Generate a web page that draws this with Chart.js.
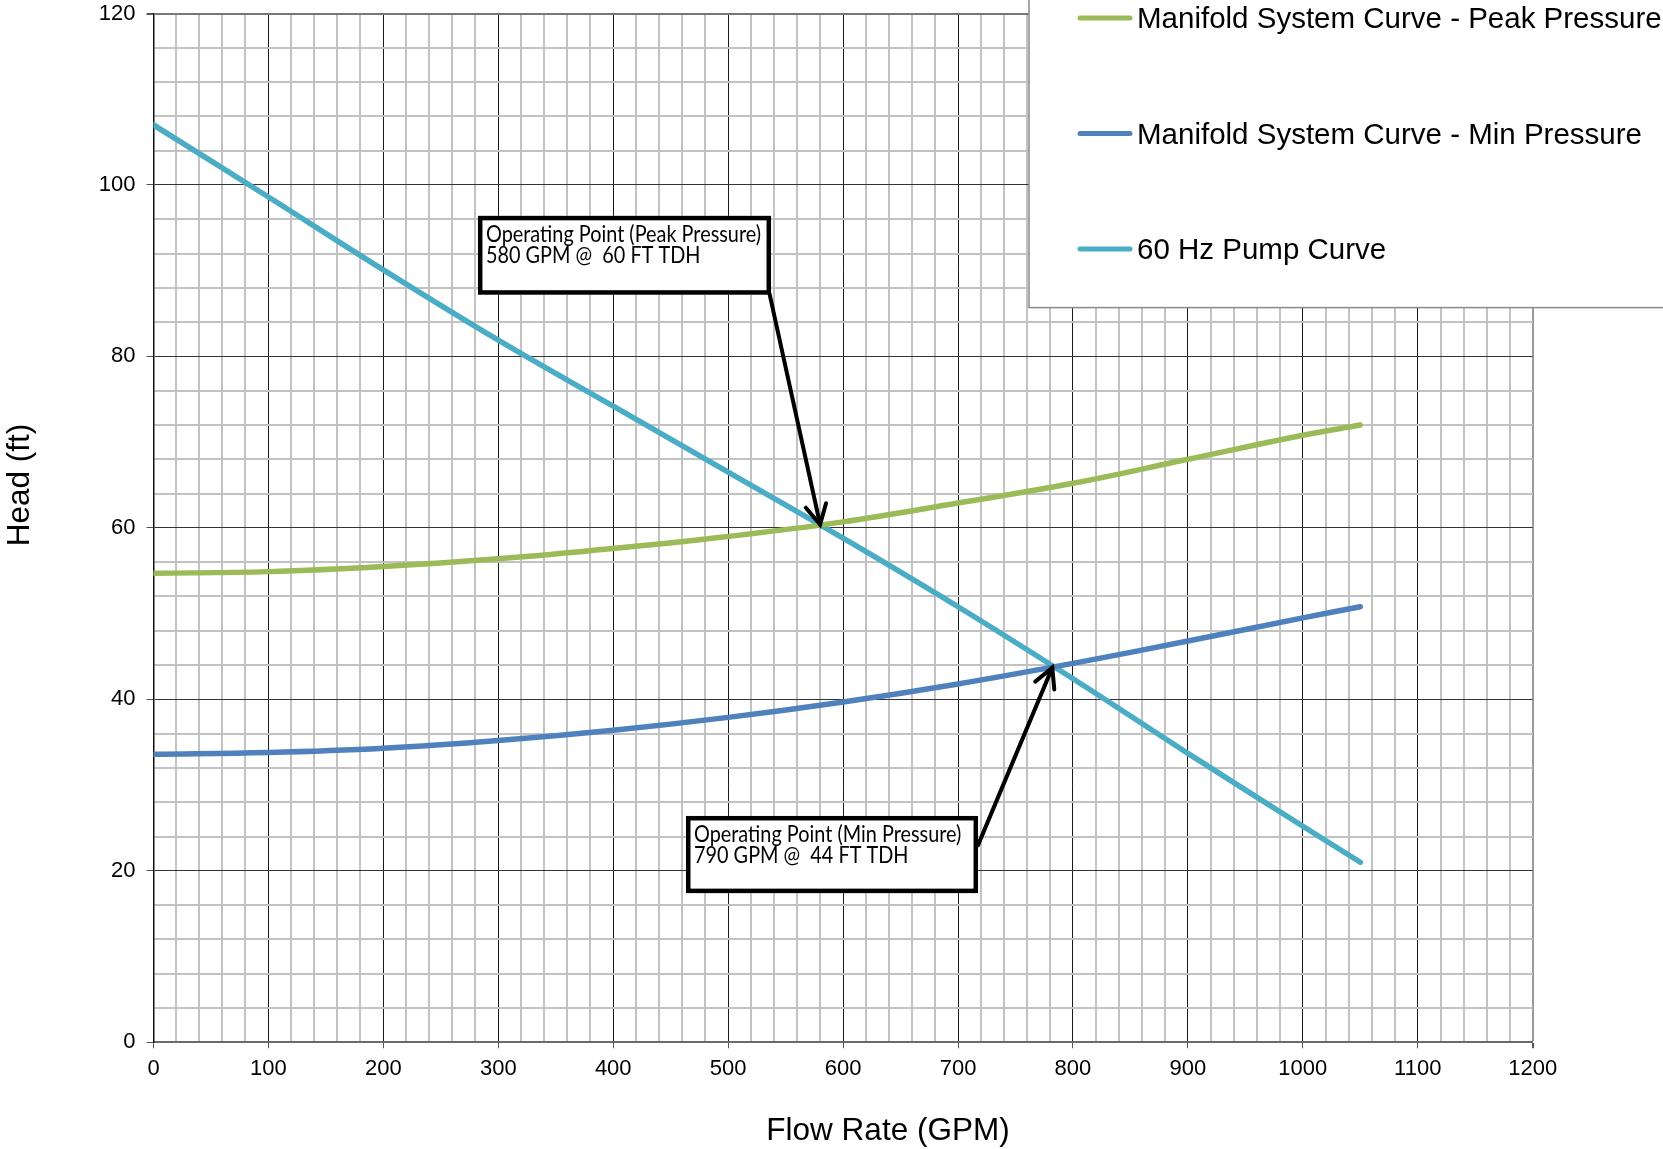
<!DOCTYPE html>
<html><head><meta charset="utf-8">
<script src="https://cdn.jsdelivr.net/npm/chart.js@4/dist/chart.umd.min.js"></script>
<style>html,body{margin:0;padding:0;background:#fff;overflow:hidden}#wrap{width:1663px;height:1149px;position:relative}</style>
</head><body><div id="wrap"><canvas id="c" width="1663" height="1149"></canvas></div>
<script>
// ---- data ----
const flowGPM        = [0, 100, 200, 300, 400, 500, 600, 700, 800, 900, 1000, 1050];
const pumpHead60Hz   = [107.0, 98.6, 90.1, 81.9, 74.2, 66.5, 58.8, 50.8, 42.4, 33.7, 25.2, 21.0];
const peakSystemHead = [54.7, 54.9, 55.5, 56.4, 57.6, 59.0, 60.7, 62.9, 65.2, 68.0, 70.8, 72.0];
const minSystemHead  = [33.6, 33.8, 34.3, 35.2, 36.4, 37.9, 39.7, 41.8, 44.2, 46.8, 49.5, 50.8];
const seriesLabels   = ['Manifold System Curve - Peak Pressure', 'Manifold System Curve - Min Pressure', '60 Hz Pump Curve'];
const xAxisTitle     = 'Flow Rate (GPM)';
const yAxisTitle     = 'Head (ft)';
const xTickLabels    = [0, 100, 200, 300, 400, 500, 600, 700, 800, 900, 1000, 1100, 1200];
const yTickLabels    = [0, 20, 40, 60, 80, 100, 120];
const annotationText = [
  ['Operating Point (Peak Pressure)', '580 GPM @  60 FT TDH'],
  ['Operating Point (Min Pressure)', '790 GPM @  44 FT TDH']
];
const operatingPointGPM  = [580, 782];
const operatingPointHead = [60.4, 43.7];

// ---- styling / layout ----
const COLORS = ['#9BBB59', '#4F81BD', '#4BACC6'];
const FONT = '"Liberation Sans", Arial, sans-serif';
const isMajor = (v, step) => Math.abs(v / step - Math.round(v / step)) < 1e-6;
const pts = arr => flowGPM.map((x, i) => ({x, y: arr[i]}));

// annotation boxes in data units (GPM, ft)
const boxes = [
  {x0: 282.3, y0: 96.4, x1: 537.3, y1: 87.2, fromX: 536.0, fromY: 87.3},
  {x0: 463.3, y0: 26.4, x1: 717.4, y1: 17.4, fromX: 717.4, fromY: 23.0}
];

function drawArrow(ctx, x0, y0, x1, y1) {
  ctx.save();
  ctx.strokeStyle = '#000'; ctx.lineWidth = 4; ctx.lineCap = 'round'; ctx.lineJoin = 'miter';
  ctx.beginPath(); ctx.moveTo(x0, y0); ctx.lineTo(x1, y1); ctx.stroke();
  const a = Math.atan2(y0 - y1, x0 - x1);
  const L = 22, sp = 28 * Math.PI / 180;
  ctx.beginPath();
  ctx.moveTo(x1 + L * Math.cos(a - sp), y1 + L * Math.sin(a - sp));
  ctx.lineTo(x1, y1);
  ctx.lineTo(x1 + L * Math.cos(a + sp), y1 + L * Math.sin(a + sp));
  ctx.stroke();
  ctx.restore();
}

const extras = {
  id: 'extras',
  afterDraw(chart) {
    const ctx = chart.ctx, xs = chart.scales.x, ys = chart.scales.y;
    // annotation boxes + arrows
    boxes.forEach((b, i) => {
      const l = xs.getPixelForValue(b.x0), t = ys.getPixelForValue(b.y0);
      const r = xs.getPixelForValue(b.x1), btm = ys.getPixelForValue(b.y1);
      ctx.save();
      ctx.fillStyle = '#fff';
      ctx.fillRect(l, t, r - l, btm - t);
      ctx.strokeStyle = '#000'; ctx.lineWidth = 4.5;
      ctx.strokeRect(l + 2.25, t + 2.25, r - l - 4.5, btm - t - 4.5);
      ctx.fillStyle = '#000';
      ctx.font = '23.5px Lato, "Open Sans", sans-serif';
      ctx.textBaseline = 'alphabetic'; ctx.textAlign = 'left';
      ctx.translate(l + 8, t);
      ctx.scale(0.845, 1);
      ctx.fillText(annotationText[i][0], 0, 26);
      ctx.fillText(annotationText[i][1], 0, 47);
      ctx.restore();
      drawArrow(ctx, xs.getPixelForValue(b.fromX), ys.getPixelForValue(b.fromY),
                xs.getPixelForValue(operatingPointGPM[i]), ys.getPixelForValue(operatingPointHead[i]));
    });
    // legend (box runs off the top/right of the canvas)
    ctx.save();
    ctx.fillStyle = '#fff';
    ctx.fillRect(1029, -10, 700, 317.6);
    ctx.strokeStyle = '#8a8a8a'; ctx.lineWidth = 1.5;
    ctx.strokeRect(1029, -10, 700, 317.6);
    const rows = [18, 133.6, 249];
    chart.data.datasets.forEach((ds, i) => {
      ctx.strokeStyle = ds.borderColor; ctx.lineWidth = 5; ctx.lineCap = 'round';
      ctx.beginPath(); ctx.moveTo(1080, rows[i]); ctx.lineTo(1130, rows[i]); ctx.stroke();
      ctx.fillStyle = '#000'; ctx.font = '29.5px ' + FONT;
      ctx.textBaseline = 'middle'; ctx.textAlign = 'left';
      ctx.fillText(ds.label, 1137, rows[i] + 2);
    });
    // axis titles
    ctx.font = '31.5px ' + FONT; ctx.fillStyle = '#000';
    ctx.textAlign = 'center'; ctx.textBaseline = 'middle';
    ctx.fillText(xAxisTitle, 888, 1131);
    ctx.translate(20, 485); ctx.rotate(-Math.PI / 2);
    ctx.fillText(yAxisTitle, 0, 0);
    ctx.restore();
  }
};

const mk = (label, arr, color) => ({
  label, data: pts(arr), borderColor: color, backgroundColor: color,
  borderWidth: 5.5, pointRadius: 0, pointHoverRadius: 0, fill: false,
  tension: 0.4, borderCapStyle: 'round', borderJoinStyle: 'round'
});

new Chart(document.getElementById('c'), {
  type: 'line',
  data: {
    datasets: [
      mk(seriesLabels[0], peakSystemHead, COLORS[0]),
      mk(seriesLabels[1], minSystemHead, COLORS[1]),
      mk(seriesLabels[2], pumpHead60Hz, COLORS[2])
    ]
  },
  options: {
    responsive: false, animation: false, devicePixelRatio: 1,
    layout: {padding: {top: 13.5, right: 130.3, left: 0, bottom: 0}},
    plugins: {legend: {display: false}, tooltip: {enabled: false}},
    events: [],
    scales: {
      x: {
        type: 'linear', min: xTickLabels[0], max: xTickLabels[xTickLabels.length - 1],
        afterFit(s) { s.height = 106.7; s.paddingLeft = 0; s.paddingRight = 0; },
        ticks: {
          stepSize: 20, autoSkip: false, maxRotation: 0, maxTicksLimit: 1000,
          callback: v => (xTickLabels.includes(Math.round(v)) && isMajor(v, 100)) ? String(Math.round(v)) : '',
          font: {family: FONT, size: 22}, color: '#000', padding: 7
        },
        grid: {
          color: c => c.tick && c.tick.value === 1200 ? '#9a9a9a' : (c.tick && isMajor(c.tick.value, 100) ? '#1a1a1a' : '#c2c2c2'),
          lineWidth: c => c.tick && isMajor(c.tick.value, 100) ? (c.tick.value === 1200 ? 2 : 1) : 2,
          tickLength: 6,
          tickColor: c => c.tick && isMajor(c.tick.value, 100) ? '#555' : 'rgba(0,0,0,0)'
        },
        border: {display: true, color: '#6a6a6a', width: 2}
      },
      y: {
        type: 'linear', min: yTickLabels[0], max: yTickLabels[yTickLabels.length - 1],
        afterFit(s) { s.width = 153.5; s.paddingTop = 0; s.paddingBottom = 0; },
        ticks: {
          stepSize: 4, autoSkip: false, maxTicksLimit: 1000,
          callback: v => (yTickLabels.includes(Math.round(v)) && isMajor(v, 20)) ? String(Math.round(v)) : '',
          font: {family: FONT, size: 22}, color: '#000', padding: 11
        },
        grid: {
          color: c => c.tick && c.tick.value === 120 ? '#777' : (c.tick && isMajor(c.tick.value, 20) ? '#333' : '#c2c2c2'),
          lineWidth: c => c.tick && isMajor(c.tick.value, 20) ? (c.tick.value === 120 ? 2 : 1) : 2,
          tickLength: 7,
          tickColor: c => c.tick && isMajor(c.tick.value, 20) ? '#555' : 'rgba(0,0,0,0)'
        },
        border: {display: true, color: '#111', width: 1.5}
      }
    }
  },
  plugins: [extras]
});
</script></body></html>
